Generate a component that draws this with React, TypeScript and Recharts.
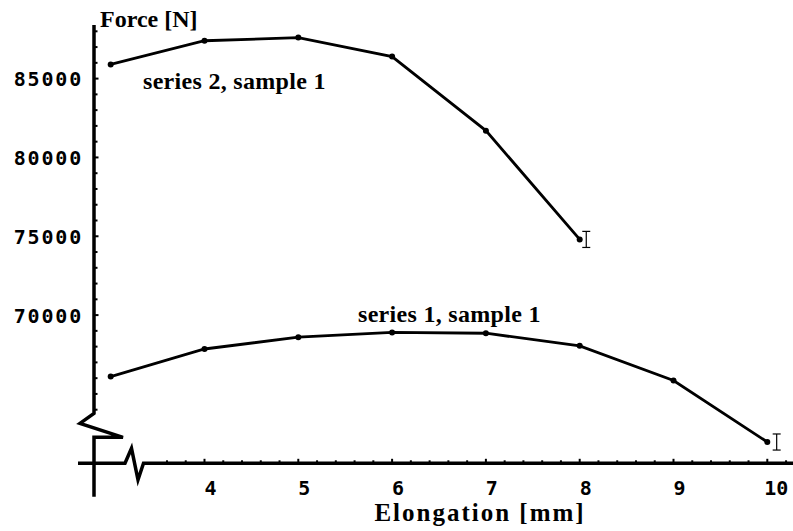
import * as React from "react"
import { ComposedChart, Line, Scatter, ErrorBar, XAxis, YAxis } from "recharts"

// elongation steps [mm]
const elongation1 = [3, 4, 5, 6, 7, 8, 9, 10]
const elongation2 = [3, 4, 5, 6, 7, 8]

// force readings [N]
const force1 = [66100, 67850, 68600, 68900, 68850, 68050, 65850, 61950]
const force2 = [85900, 87400, 87600, 86400, 81700, 74800]

// scatter of the last reading, drawn a little to the right of the point
const errX = [10.1, 8.07]
const errY = [61950, 74800]
const errSize = [510, 510]

const xMajor = [4, 5, 6, 7, 8, 9, 10]
const xMinor = [3.6, 3.8, 4.2, 4.4, 4.6, 4.8, 5.2, 5.4, 5.6, 5.8, 6.2, 6.4, 6.6, 6.8, 7.2, 7.4, 7.6, 7.8, 8.2, 8.4, 8.6, 8.8, 9.2, 9.4, 9.6, 9.8, 10.2]
const yMajor = [70000, 75000, 80000, 85000]
const yMinor = [64000, 65000, 66000, 67000, 68000, 69000, 71000, 72000, 73000, 74000, 76000, 77000, 78000, 79000, 81000, 82000, 83000, 84000, 86000, 87000, 88000]

const W = 793
const H = 531
const PLOT_LEFT = 94
const PLOT_TOP = 25
const PLOT_BOTTOM = 463.3

const serif = "'Liberation Serif', 'Times New Roman', serif"
const mono = "'DejaVu Sans Mono', monospace"

const data1 = elongation1.map((x, i) => ({ x, y: force1[i] }))
const data2 = elongation2.map((x, i) => ({ x, y: force2[i] }))
const errData = errX.map((x, i) => ({ x, y: errY[i], err: errSize[i] }))

const XTick = (props: any) => {
  const { x, y, payload } = props
  const v = payload.value
  const major = xMajor.includes(v)
  const label = String(v)
  return (
    <g>
      <line x1={x} x2={x} y1={y} y2={y - (major ? 4.5 : 3)} stroke="#000" strokeWidth={2} />
      {major && (
        <text x={x + 6 + (label.length - 1) * 3} y={y + 31.5} textAnchor="middle"
          fontFamily={mono} fontWeight="bold" fontSize={20} fill="#000">
          {label}
        </text>
      )}
    </g>
  )
}

const YTick = (props: any) => {
  const { x, y, payload } = props
  const v = payload.value
  const major = yMajor.includes(v)
  return (
    <g>
      <line x1={x} x2={x + (major ? 4.5 : 3.5)} y1={y} y2={y} stroke="#000" strokeWidth={2} />
      {major && (
        <text x={x - 11} y={y + 7.5} textAnchor="end" letterSpacing={1.8}
          fontFamily={mono} fontWeight="bold" fontSize={20} fill="#000">
          {v}
        </text>
      )}
    </g>
  )
}

const NoMark = () => <g />

export default function App() {
  const ax = PLOT_LEFT
  const ay = PLOT_BOTTOM
  return (
    <div style={{ position: "absolute", left: 0, top: 0, width: W, height: H, background: "#fff" }}>
      <ComposedChart width={W} height={H} margin={{ top: PLOT_TOP, right: 0, bottom: 0, left: 0 }}>
        <XAxis dataKey="x" type="number" domain={[2.822, 10.274]} allowDataOverflow
          ticks={[...xMinor, ...xMajor].sort((a, b) => a - b)} interval={0}
          height={H - PLOT_BOTTOM} axisLine={false} tickLine={false} tickSize={0} tickMargin={0}
          tick={<XTick />} />
        <YAxis dataKey="y" type="number" domain={[60600, 88400]} allowDataOverflow
          ticks={[...yMinor, ...yMajor].sort((a, b) => a - b)} interval={0}
          width={PLOT_LEFT} axisLine={false} tickLine={false} tickSize={0} tickMargin={0}
          tick={<YTick />} />
        <Line data={data1} dataKey="y" stroke="#000" strokeWidth={2.8} isAnimationActive={false}
          dot={{ r: 3, fill: "#000", stroke: "none" }} activeDot={false} />
        <Line data={data2} dataKey="y" stroke="#000" strokeWidth={2.8} isAnimationActive={false}
          dot={{ r: 3, fill: "#000", stroke: "none" }} activeDot={false} />
        <Scatter data={errData} dataKey="y" shape={<NoMark />} isAnimationActive={false}>
          <ErrorBar dataKey="err" direction="y" width={4} stroke="#000" strokeWidth={1.2} isAnimationActive={false} />
        </Scatter>
      </ComposedChart>
      <svg width={W} height={H} style={{ position: "absolute", left: 0, top: 0, pointerEvents: "none" }}>
        {/* y axis with break */}
        <polyline fill="none" stroke="#000" strokeWidth={3.5} strokeLinejoin="miter"
          points={`${ax},${PLOT_TOP} ${ax},${ay - 50} ${ax - 14},${ay - 40} ${ax + 29},${ay - 26} ${ax},${ay - 26} ${ax},${ay + 33.5}`} />
        {/* x axis with break */}
        <polyline fill="none" stroke="#000" strokeWidth={3.5} strokeLinejoin="miter"
          points={`${ax - 16},${ay} ${ax + 31},${ay} ${ax + 37.5},${ay - 15} ${ax + 44},${ay + 16.5} ${ax + 49.5},${ay} ${W},${ay}`} />
        <text x={100} y={26.5} fontFamily={serif} fontWeight="bold" fontSize={24} fill="#000">Force [N]</text>
        <text x={480} y={521} textAnchor="middle" fontFamily={serif} fontWeight="bold" fontSize={25} letterSpacing={2} fill="#000">Elongation [mm]</text>
        <text x={143} y={88.5} fontFamily={serif} fontWeight="bold" fontSize={24} letterSpacing={0.3} fill="#000">series 2, sample 1</text>
        <text x={358} y={321.5} fontFamily={serif} fontWeight="bold" fontSize={24} letterSpacing={0.3} fill="#000">series 1, sample 1</text>
      </svg>
    </div>
  )
}
